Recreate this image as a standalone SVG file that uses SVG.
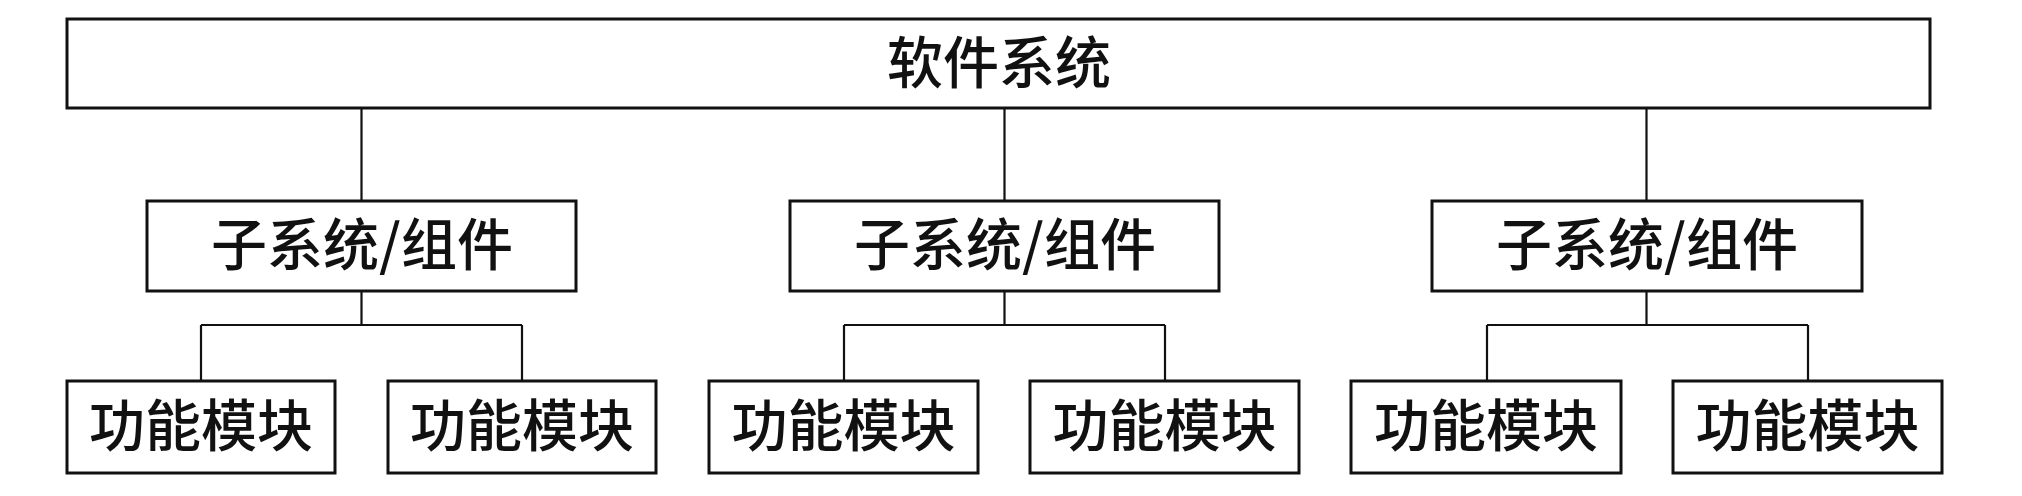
<svg xmlns="http://www.w3.org/2000/svg" width="2022" height="496" viewBox="0 0 2022 496">
<style>
.box{fill:#fff;stroke:#111;stroke-width:3}
.lbl{font-family:"Noto Sans CJK SC","Noto Sans",sans-serif;font-size:56px;font-weight:500;fill:#111;text-anchor:middle}
.con{fill:none;stroke:#111;stroke-width:2.2}
</style>
<rect width="2022" height="496" fill="#fff"/>
<g id="connectors">
<path class="con" d="M361.5 108V201M361.5 291V325M201 325H522M201 325V381M522 325V381"/>
<path class="con" d="M1004.5 108V201M1004.5 291V325M844 325H1165M844 325V381M1165 325V381"/>
<path class="con" d="M1646.5 108V201M1646.5 291V325M1487 325H1808M1487 325V381M1808 325V381"/>
</g>
<g id="root"><rect class="box" x="67" y="19" width="1863" height="89"/><text class="lbl" x="999" y="83">软件系统</text></g>
<g id="sub1"><rect class="box" x="147" y="201" width="429" height="90"/><text class="lbl" x="362" y="265">子系统/组件</text></g>
<g id="sub2"><rect class="box" x="790" y="201" width="429" height="90"/><text class="lbl" x="1005" y="265">子系统/组件</text></g>
<g id="sub3"><rect class="box" x="1432" y="201" width="430" height="90"/><text class="lbl" x="1647" y="265">子系统/组件</text></g>
<g id="leaf1"><rect class="box" x="67" y="381" width="268" height="92"/><text class="lbl" x="201" y="446">功能模块</text></g>
<g id="leaf2"><rect class="box" x="388" y="381" width="268" height="92"/><text class="lbl" x="522" y="446">功能模块</text></g>
<g id="leaf3"><rect class="box" x="709" y="381" width="269" height="92"/><text class="lbl" x="843.5" y="446">功能模块</text></g>
<g id="leaf4"><rect class="box" x="1030" y="381" width="269" height="92"/><text class="lbl" x="1164.5" y="446">功能模块</text></g>
<g id="leaf5"><rect class="box" x="1351" y="381" width="270" height="92"/><text class="lbl" x="1486" y="446">功能模块</text></g>
<g id="leaf6"><rect class="box" x="1673" y="381" width="269" height="92"/><text class="lbl" x="1807.5" y="446">功能模块</text></g>
</svg>
